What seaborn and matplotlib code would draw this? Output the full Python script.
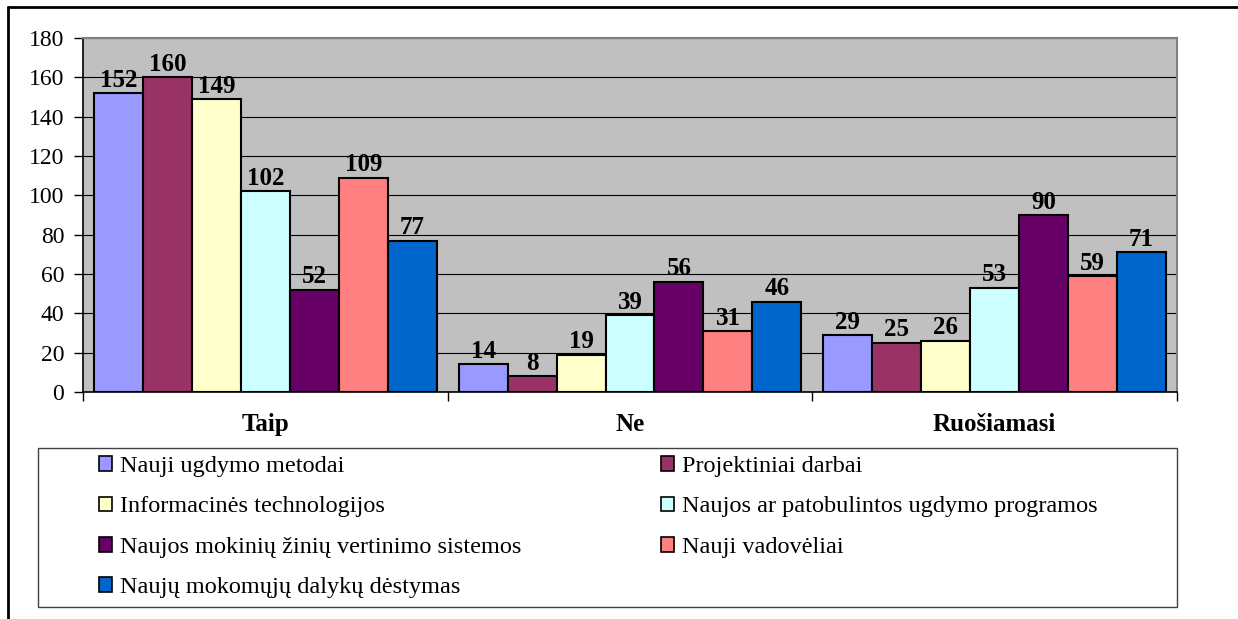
import matplotlib
matplotlib.use('Agg')
import matplotlib.pyplot as plt
import seaborn as sns
import pandas as pd
from matplotlib.lines import Line2D
from matplotlib.patches import Rectangle, Patch

categories = ['Taip', 'Ne', 'Ruošiamasi']
series = [
    'Nauji ugdymo metodai',
    'Projektiniai darbai',
    'Informacinės technologijos',
    'Naujos ar patobulintos ugdymo programos',
    'Naujos mokinių žinių vertinimo sistemos',
    'Nauji vadovėliai',
    'Naujų mokomųjų dalykų dėstymas',
]
vals_metodai = [152, 14, 29]
vals_projektiniai = [160, 8, 25]
vals_it = [149, 19, 26]
vals_programos = [102, 39, 53]
vals_vertinimas = [52, 56, 90]
vals_vadoveliai = [109, 31, 59]
vals_dalykai = [77, 46, 71]
all_vals = [vals_metodai, vals_projektiniai, vals_it, vals_programos,
            vals_vertinimas, vals_vadoveliai, vals_dalykai]
colors = ['#9999FF', '#993366', '#FFFFCC', '#CCFFFF', '#660066', '#FF8080', '#0066CC']
y_ticks = [0, 20, 40, 60, 80, 100, 120, 140, 160, 180]

sns.set_theme(style='white')
plt.rcParams['font.family'] = ['Liberation Serif', 'DejaVu Serif']
plt.rcParams['text.color'] = 'black'

rows = []
for s, vals in zip(series, all_vals):
    for c, v in zip(categories, vals):
        rows.append({'cat': c, 'series': s, 'val': v})
df = pd.DataFrame(rows)

W, H = 1238, 619
fig = plt.figure(figsize=(W / 100, H / 100), dpi=100)
fig.patch.set_facecolor('white')
ax = fig.add_axes([83 / W, 1 - 392 / H, (1177 - 83) / W, (392 - 38) / H])
ax.set_facecolor('#C0C0C0')

sns.barplot(data=df, x='cat', y='val', hue='series', order=categories,
            hue_order=series, palette=colors, saturation=1, width=0.94,
            edgecolor='black', linewidth=1.5, ax=ax, legend=False, errorbar=None)

for cont in ax.containers:
    ax.bar_label(cont, fmt='%d', padding=1, fontsize=18, fontweight='bold', color='black')

ax.set_xlim(-0.5, 2.5)
ax.set_ylim(0, 180)
ax.set_yticks(y_ticks)
ax.set_yticklabels([str(t) for t in y_ticks])
ax.yaxis.grid(True, color='black', linewidth=0.8)
ax.xaxis.grid(False)
ax.set_axisbelow(True)
ax.set_xlabel('')
ax.set_ylabel('')

ax.set_xticks(range(len(categories)))
ax.set_xticklabels(categories, fontsize=18, fontweight='bold')
ax.set_xticks([-0.5, 0.5, 1.5, 2.5], minor=True)
ax.tick_params(axis='x', which='major', length=0, pad=15, colors='black')
ax.tick_params(axis='x', which='minor', length=6.5, width=1, color='black', direction='out', bottom=True)
ax.tick_params(axis='y', which='major', length=6.5, width=1, color='black', direction='out',
               labelsize=17, pad=7, left=True, labelcolor='black')

for side in ['left', 'bottom']:
    ax.spines[side].set_color('black')
    ax.spines[side].set_linewidth(1.2)
for side in ['top', 'right']:
    ax.spines[side].set_color('#808080')
    ax.spines[side].set_linewidth(1.5)

# legend
handles = [Patch(facecolor=c, edgecolor='black', linewidth=1.2) for c in colors]
col1 = [0, 2, 4, 6]
col2 = [1, 3, 5]
common = dict(loc='upper left', frameon=False, fontsize=17.5, handlelength=0.55,
              handleheight=0.55, handletextpad=0.3, labelspacing=0.8,
              borderaxespad=0, borderpad=0, labelcolor='black')
fig.legend([handles[i] for i in col1], [series[i] for i in col1],
           bbox_to_anchor=(99 / W, 1 - 456 / H), **common)
fig.legend([handles[i] for i in col2], [series[i] for i in col2],
           bbox_to_anchor=(661 / W, 1 - 456 / H), **common)

fig.add_artist(Rectangle((38 / W, 1 - 607 / H), (1177 - 38) / W, (607 - 448) / H,
                         transform=fig.transFigure, fill=False, edgecolor='#404040', linewidth=1))

# outer frame (clipped at right and bottom)
fig.add_artist(Line2D([8 / W, 1.0], [1 - 6.5 / H, 1 - 6.5 / H], transform=fig.transFigure,
                      color='black', linewidth=2))
fig.add_artist(Line2D([8 / W, 8 / W], [1 - 6.5 / H, 0.0], transform=fig.transFigure,
                      color='black', linewidth=2))

fig.savefig('out.png', dpi=100)
